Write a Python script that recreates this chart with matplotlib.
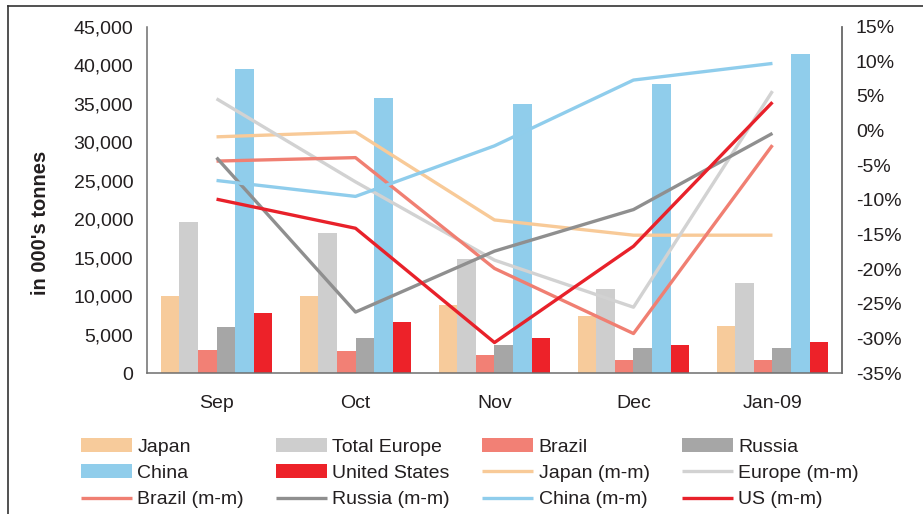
import numpy as np
import matplotlib
matplotlib.use("Agg")
import matplotlib.pyplot as plt
from matplotlib.lines import Line2D

plt.rcParams['font.family'] = ['Liberation Sans', 'DejaVu Sans']

months = ['Sep', 'Oct', 'Nov', 'Dec', 'Jan-09']

# monthly volumes, in 000's tonnes
japan = [10000, 10000, 8800, 7400, 6100]
europe = [19600, 18200, 14800, 10900, 11700]
brazil = [2950, 2800, 2300, 1650, 1650]
russia = [5950, 4500, 3700, 3300, 3300]
china = [39500, 35700, 34900, 37500, 41400]
usa = [7750, 6600, 4600, 3700, 4000]

# month-on-month change, %
japan_mm = [-0.9, -0.2, -12.9, -15.1, -15.1]
europe_mm = [4.6, -7.4, -18.7, -25.5, 5.7]
brazil_mm = [-4.4, -3.9, -19.9, -29.3, -2.1]
russia_mm = [-3.9, -26.2, -17.4, -11.4, -0.4]
china_mm = [-7.2, -9.5, -2.2, 7.3, 9.7]
us_mm = [-9.9, -14.1, -30.6, -16.7, 4.1]

left_ticks = list(range(0, 45001, 5000))
right_ticks = list(range(-35, 16, 5))

bar_series = [
    ('Japan', japan, '#F7CB9B'),
    ('Total Europe', europe, '#CECECE'),
    ('Brazil', brazil, '#F28075'),
    ('Russia', russia, '#A6A6A6'),
    ('China', china, '#90CDEB'),
    ('United States', usa, '#ED2229'),
]
line_series = [
    ('Japan (m-m)', japan_mm, '#F8CA98'),
    ('Europe (m-m)', europe_mm, '#D2D2D2'),
    ('Brazil (m-m)', brazil_mm, '#F07F72'),
    ('Russia (m-m)', russia_mm, '#8F8F8F'),
    ('China (m-m)', china_mm, '#8FCDEC'),
    ('US (m-m)', us_mm, '#E8212A'),
]

txt = '#231F20'
spine_col = '#6E6E6E'
fs = 14

fig = plt.figure(figsize=(9.23, 5.14), dpi=100)
ax = fig.add_axes([0.1593, 0.2743, 0.7529, 0.6737])
ax2 = ax.twinx()

x = np.arange(len(months))
w = 0.8 / len(bar_series)
handles = {}
for i, (name, vals, col) in enumerate(bar_series):
    b = ax.bar(x + (i - 2.5) * w, vals, width=w, color=col, label=name, zorder=2)
    handles[name] = b

for name, vals, col in line_series:
    ln, = ax2.plot(x, vals, color=col, lw=2.4, label=name, solid_capstyle='butt')
    handles[name] = ln

ax.set_xlim(-0.5, 4.5)
ax.set_ylim(0, 45000)
ax.set_yticks(left_ticks)
ax.set_yticklabels([f'{v:,}' for v in left_ticks])
ax.set_xticks(x)
ax.set_xticklabels(months)
ax2.set_ylim(-35, 15)
ax2.set_yticks(right_ticks)
ax2.set_yticklabels([f'{v}%' for v in right_ticks])

for a in (ax, ax2):
    a.spines['top'].set_visible(False)
    for s in ('left', 'right', 'bottom'):
        a.spines[s].set_color(spine_col)
        a.spines[s].set_linewidth(1.1)
    a.tick_params(length=0, labelsize=fs, colors=txt)
ax.tick_params(axis='y', pad=10)
ax.tick_params(axis='x', pad=16)
ax2.tick_params(axis='y', pad=10)
ax2.spines['left'].set_visible(False)
ax2.spines['bottom'].set_visible(False)

fig.text(40 / 923, 1 - 223 / 514, "in 000's tonnes", rotation=90, ha='center', va='center',
         fontsize=14.5, fontweight='bold', color=txt)

# legend is filled column by column, so order entries to read row by row
order = ['Japan', 'China', 'Brazil (m-m)',
         'Total Europe', 'United States', 'Russia (m-m)',
         'Brazil', 'Japan (m-m)', 'China (m-m)',
         'Russia', 'Europe (m-m)', 'US (m-m)']
fig.legend([handles[k] for k in order], order, ncol=4, frameon=False,
           loc='upper left', bbox_to_anchor=(81 / 923, 1 - 438 / 514),
           borderaxespad=0, borderpad=0, fontsize=fs, handlelength=2.62,
           handleheight=0.7, handletextpad=0.28, labelspacing=0.45,
           columnspacing=1.65, labelcolor=txt)

# thin frame around the whole chart
fig.add_artist(Line2D([8 / 923, 8 / 923], [0, 1 - 6 / 514], transform=fig.transFigure,
                      color='#333333', lw=1.2))
fig.add_artist(Line2D([8 / 923, 1], [1 - 6 / 514, 1 - 6 / 514], transform=fig.transFigure,
                      color='#333333', lw=1.2))

fig.savefig('out.png', dpi=100)
